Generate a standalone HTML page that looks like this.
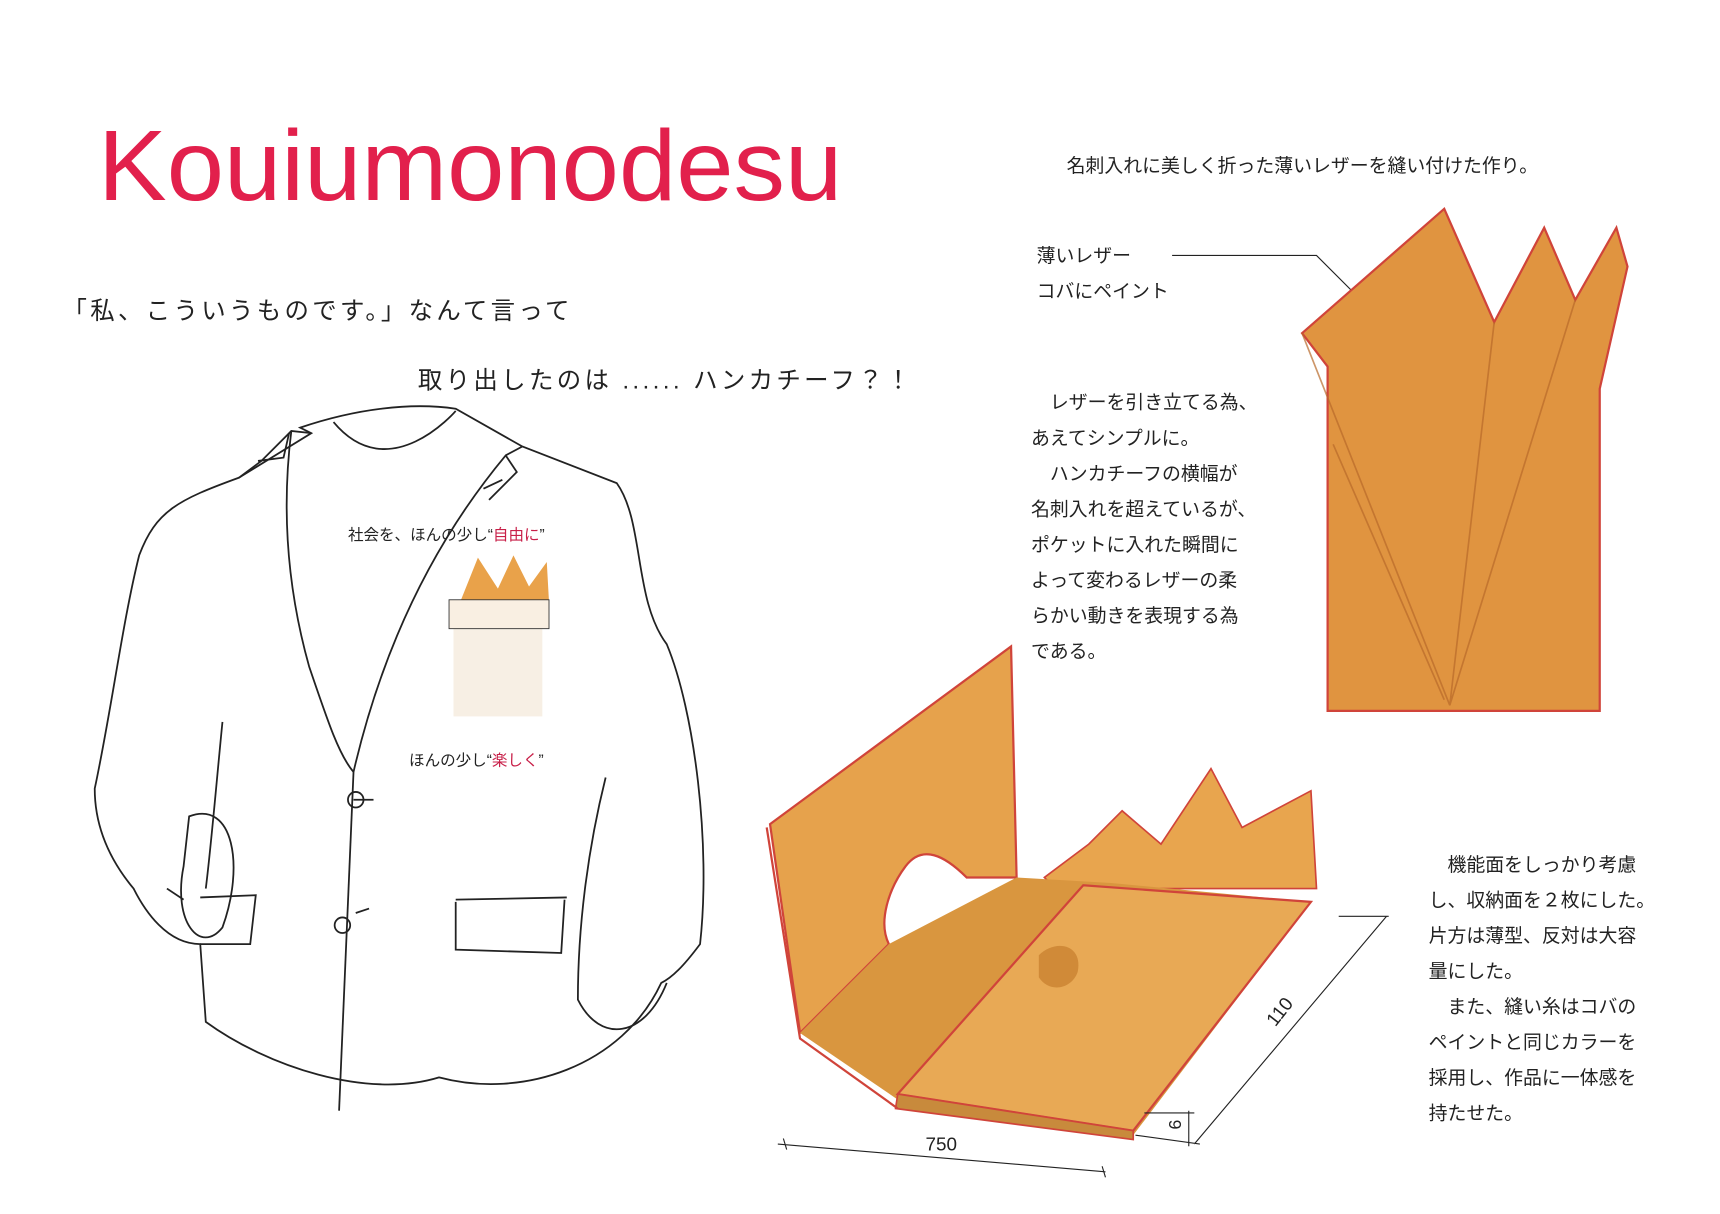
<!DOCTYPE html>
<html><head><meta charset="utf-8"><style>
html,body{margin:0;padding:0;background:#fff;}
svg{display:block;}
text{font-family:"Liberation Sans","Noto Sans CJK JP",sans-serif;fill:#222;}
</style></head><body>
<svg width="1720" height="1214" viewBox="0 0 1548 1093" xmlns="http://www.w3.org/2000/svg">
<rect width="1548" height="1093" fill="#fff"/>
<text x="88" y="180" font-size="90" textLength="670" lengthAdjust="spacingAndGlyphs" style="fill:#e2204c">Kouiumonodesu</text>
<text x="56" y="287" font-size="22" letter-spacing="3">「私、こういうものです。」なんて言って</text>
<text x="376" y="350" font-size="22" letter-spacing="3">取り出したのは ...... ハンカチーフ？！</text>

<!-- jacket -->
<g fill="none" stroke="#222" stroke-width="1.6">
<path d="M270,385 C320,368 370,362 410,368 L470,402 L555,435 C580,470 570,540 600,580 C625,640 640,760 630,850 C615,870 605,880 595,885 C560,960 470,990 395,970 C330,990 240,960 185,920 L180,850 C150,850 130,820 120,800 C95,770 85,740 85,710 C100,640 110,560 125,500 C140,460 160,450 215,430 L280,390 Z"/>
<path d="M215,430 L235,415 L262,388 L280,390"/>
<path d="M232,415 L255,412 L260,390"/>
<path d="M262,388 C258,420 250,500 278,600 C295,650 305,680 318,695"/>
<path d="M300,380 C350,440 410,370 410,370"/>
<path d="M318,695 C340,600 380,500 455,410 L470,402"/>
<path d="M455,410 L465,425 L440,450"/>
<path d="M318,695 L305,1000"/>
<path d="M435,440 L452,432"/>
<circle cx="320" cy="720" r="7"/>
<circle cx="308" cy="833" r="7"/>
<path d="M318,720 L336,720 M320,822 L332,818"/>
<path d="M410,810 L510,808 M410,812 L410,855 L505,858 L508,810"/>
<path d="M200,650 C195,700 190,760 185,800"/>
<path d="M170,735 C210,720 220,780 200,835 C180,860 155,830 165,780 Z"/>
<path d="M180,808 L230,806 L225,850 L180,850"/>
<path d="M150,800 L165,810"/>
<path d="M545,700 C530,760 520,830 520,900 C540,940 580,935 600,885"/>
</g>
<!-- pocket square on jacket -->
<rect x="408" y="560" width="80" height="85" fill="#f7efe4"/>
<path d="M414,542 L430,502 L448,530 L462,500 L476,528 L492,506 L494,542 Z" fill="#e9a24a"/>
<rect x="404" y="540" width="90" height="26" fill="#f9efe2" stroke="#333" stroke-width="0.8"/>
<text x="313" y="486" font-size="14">社会を、ほんの少し“<tspan style="fill:#c81f48">自由に</tspan>”</text>
<text x="368" y="689" font-size="14">ほんの少し“<tspan style="fill:#c81f48">楽しく</tspan>”</text>

<!-- right texts -->
<text x="960" y="155" font-size="17">名刺入れに美しく折った薄いレザーを縫い付けた作り。</text>
<text x="933" y="236" font-size="17">薄いレザー</text>
<text x="933" y="268" font-size="17">コバにペイント</text>
<path d="M1055,230 L1185,230 L1245,290" fill="none" stroke="#222" stroke-width="1"/>
<g font-size="17">
<text x="928" y="368">　レザーを引き立てる為、</text>
<text x="928" y="400">あえてシンプルに。</text>
<text x="928" y="432">　ハンカチーフの横幅が</text>
<text x="928" y="464">名刺入れを超えているが、</text>
<text x="928" y="496">ポケットに入れた瞬間に</text>
<text x="928" y="528">よって変わるレザーの柔</text>
<text x="928" y="560">らかい動きを表現する為</text>
<text x="928" y="592">である。</text>
<text x="1286" y="784">　機能面をしっかり考慮</text>
<text x="1286" y="816">し、収納面を２枚にした。</text>
<text x="1286" y="848">片方は薄型、反対は大容</text>
<text x="1286" y="880">量にした。</text>
<text x="1286" y="912">　また、縫い糸はコバの</text>
<text x="1286" y="944">ペイントと同じカラーを</text>
<text x="1286" y="976">採用し、作品に一体感を</text>
<text x="1286" y="1008">持たせた。</text>
</g>

<!-- big pocket square -->
<path d="M1172,300 L1300,188 L1345,290 L1390,205 L1418,270 L1455,205 L1465,240 L1440,350 L1440,640 L1195,640 L1195,330 Z" fill="#e09440" stroke="#d0443a" stroke-width="2"/>
<path d="M1172,300 L1305,635 L1345,290 M1305,635 L1418,270 M1200,400 L1300,630" fill="none" stroke="#b86a2a" stroke-width="1.5" opacity="0.7"/>

<!-- card holder -->
<path d="M693,742 L910,582 L915,790 L870,790 C850,770 830,760 815,780 C800,800 790,830 800,850 L720,930 Z" fill="#e6a24c" stroke="#d0443a" stroke-width="2"/>
<path d="M940,790 L980,760 L1010,730 L1045,760 L1090,692 L1118,745 L1180,712 L1185,800 L950,800 Z" fill="#e8a54e" stroke="#d0443a" stroke-width="1.5"/>
<path d="M720,930 L800,850 L915,790 L1000,795 L1180,812 L1020,1022 L808,990 Z" fill="#d9963f"/>
<path d="M808,985 L975,797 L1180,812 L1020,1018 Z" fill="#e8a955" stroke="#d0443a" stroke-width="2"/>
<path d="M935,860 C950,845 975,850 970,875 C965,890 945,895 935,880 Z" fill="#d08a38"/>
<path d="M808,985 L1020,1018 L1020,1026 L806,998 Z" fill="#c88a3c" stroke="#d0443a" stroke-width="1.5"/>
<path d="M690,745 L720,935 L808,998" fill="none" stroke="#d0443a" stroke-width="2"/>

<!-- dimensions -->
<g stroke="#222" stroke-width="1" fill="none">
<path d="M700,1030 L995,1055 M705,1025 L708,1035 M992,1050 L995,1060"/>
<path d="M1075,1030 L1248,825 M1205,825 L1250,825 M1022,1022 L1080,1030 M1030,1002 L1075,1002 M1070,1000 L1070,1032"/>
</g>
<text x="833" y="1036" font-size="17">750</text>
<text x="0" y="0" font-size="17" transform="translate(1148,925) rotate(-52)">110</text>
<text x="0" y="0" font-size="16" transform="translate(1052,1008) rotate(90)">9</text>
</svg>
</body></html>
